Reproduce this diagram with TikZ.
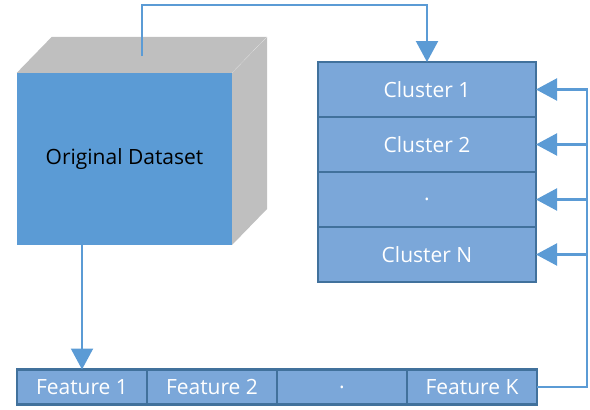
\documentclass[tikz,border=0pt]{standalone}
\usepackage{fontspec}
\setmainfont{Open Sans}
\usetikzlibrary{arrows.meta}
\usetikzlibrary{positioning}

\definecolor{faceblue}{HTML}{5B9BD5}
\definecolor{cellblue}{HTML}{7BA7D9}
\definecolor{edgeblue}{HTML}{41719C}
\definecolor{sidegray}{HTML}{BFBFBF}

\begin{document}
\begin{tikzpicture}[x=1pt,y=-1pt,
	every node/.style={font=\fontsize{21}{25}\selectfont,inner sep=0pt},
	clusterbox/.style={draw=edgeblue,line width=2.2pt,outer sep=0pt,fill=cellblue,text=white,minimum width=218pt,minimum height=55pt},
	featbox/.style={draw=edgeblue,line width=2.2pt,outer sep=0pt,fill=cellblue,text=white,minimum width=130pt,minimum height=35pt},
	link/.style={draw=faceblue,line width=2.2pt,-{Triangle[width=22pt,length=21pt]}}]
	\useasboundingbox (0,0) rectangle (590,410);

	% the cube
	\node[fill=faceblue,minimum width=215pt,minimum height=172pt] (data) at (124.5,159) {Original Dataset};
	\fill[sidegray] (data.north west) -- ++(35,-36) -- ++(215,0) -- ++(-35,36) -- cycle;
	\fill[sidegray] (data.north east) -- ++(35,-36) -- ++(0,172) -- ++(-35,36) -- cycle;

	% clusters
	\node[clusterbox] (c1) at (427,89.5) {Cluster 1};
	\node[clusterbox,below=0pt of c1] (c2) {Cluster 2};
	\node[clusterbox,below=0pt of c2] (c3) {.};
	\node[clusterbox,below=0pt of c3] (cn) {Cluster N};

	% features
	\node[featbox] (f1) at (82,387) {Feature 1};
	\node[featbox,right=0pt of f1] (f2) {Feature 2};
	\node[featbox,right=0pt of f2] (f3) {.};
	\node[featbox,right=0pt of f3] (fk) {Feature K};

	% connectors
	\coordinate (top) at (142,56);
	\coordinate (bus) at ([xshift=51pt]c1.east);
	\draw[link] (top) -- ++(0,-51) -| (c1.north);
	\draw[link] (f1.north |- data.south) -- (f1.north);
	\draw[link] (fk.east) -| (bus) -- (c1.east);
	\foreach \c in {c2,c3,cn}
		\draw[link] (bus |- \c.east) -- (\c.east);
\end{tikzpicture}
\end{document}
